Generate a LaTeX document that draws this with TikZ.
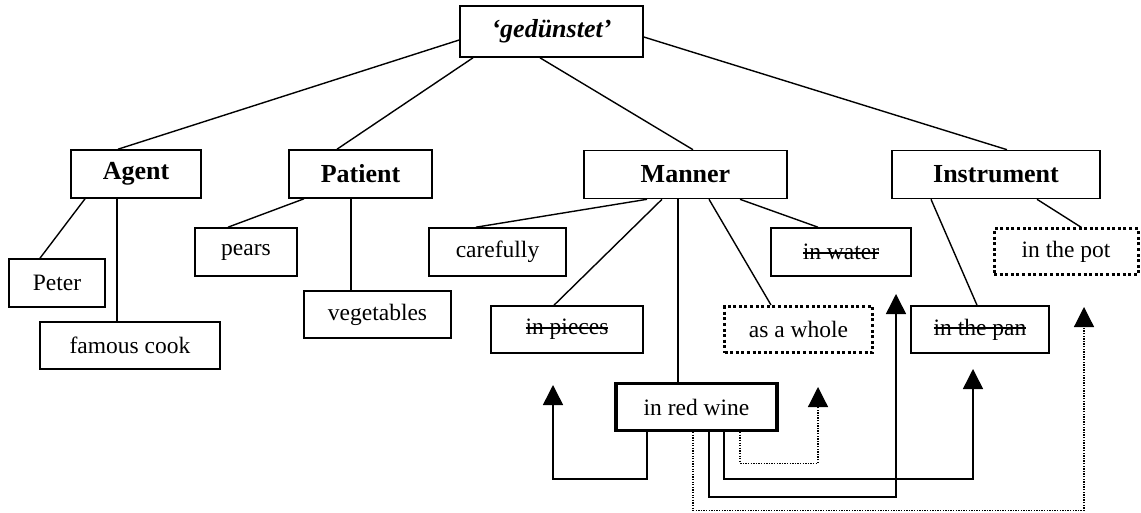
\documentclass[tikz,border=0pt]{standalone}
\usepackage{fontspec}
\setmainfont{Liberation Serif}
\newcommand{\strk}[1]{\setbox0\hbox{#1}\rlap{\rule[0.26em]{\wd0}{1.6pt}}\box0}
\usetikzlibrary{arrows.meta}
\tikzset{
  box/.style={draw, line width=1.6pt, inner sep=0pt, minimum height=48pt, font=\fontsize{23.5}{28}\selectfont},
  head/.style={box, font=\fontsize{26}{30}\selectfont\bfseries},
  dotbox/.style={box, line width=3pt, dash pattern=on 3pt off 2.6pt},
  thickbox/.style={box, line width=3.2pt},
  edge/.style={line width=1.4pt},
  arr/.style={line width=1.5pt, -{Triangle[length=20pt,width=20pt]}},
  darr/.style={line width=1.2pt, dash pattern=on 1.3pt off 1.3pt, -{Triangle[length=20pt,width=20pt]}}
}
\begin{document}
\begin{tikzpicture}[x=1pt,y=-1pt]
\useasboundingbox (0,0) rectangle (1141,513);
% nodes
\node[head, minimum width=183pt, minimum height=51pt] (ged) at (551.5,31.5) {\itshape ‘gedünstet’};
\node[head, minimum width=130pt] (agent) at (136,174) {Agent};
\node[head, minimum width=143pt] (patient) at (360.5,174) {Patient};
\node[head, minimum width=203pt] (manner) at (685.5,174.5) {Manner};
\node[head, minimum width=208pt] (instr) at (996,174.5) {Instrument};
\node[box, minimum width=96pt] (peter) at (57,283) {Peter};
\node[box, minimum width=180pt, minimum height=47pt] (cook) at (130,345.5) {famous cook};
\node[box, minimum width=102pt] (pears) at (246,252) {pears};
\node[box, minimum width=147pt, minimum height=47pt] (veg) at (377.5,314.5) {vegetables};
\node[box, minimum width=137pt] (careful) at (497.5,252) {carefully};
\node[box, minimum width=152pt, minimum height=47pt] (pieces) at (567,329.5) {\strk{in pieces}};
\node[dotbox, minimum width=148pt, minimum height=46pt] (whole) at (798.5,329.5) {as a whole};
\node[box, minimum width=140pt] (water) at (841,252) {\strk{in water}};
\node[dotbox, minimum width=144pt, minimum height=46pt] (pot) at (1066,252) {in the pot};
\node[box, minimum width=138pt, minimum height=47pt] (pan) at (980,329.5) {\strk{in the pan}};
\node[thickbox, minimum width=161pt, minimum height=47pt] (wine) at (696.5,407) {in red wine};
% tree edges
\draw[edge] ([yshift=-8.5pt]ged.west) -- ([xshift=-18pt]agent.north);
\draw[edge] ([xshift=-78.5pt]ged.south) -- ([xshift=-23.5pt]patient.north);
\draw[edge] ([xshift=-11.5pt]ged.south) -- ([xshift=7.5pt]manner.north);
\draw[edge] ([yshift=-5.5pt]ged.east) -- ([xshift=11pt]instr.north);
\draw[edge] ([xshift=-51pt]agent.south) -- ([xshift=-17pt]peter.north);
\draw[edge] ([xshift=-19pt]agent.south) -- ([xshift=-13pt]cook.north);
\draw[edge] ([xshift=-56.5pt]patient.south) -- ([xshift=-18pt]pears.north);
\draw[edge] ([xshift=-9.5pt]patient.south) -- ([xshift=-26.5pt]veg.north);
\draw[edge] ([xshift=-38.5pt]manner.south) -- ([xshift=-21.5pt]careful.north);
\draw[edge] ([xshift=-23.5pt]manner.south) -- ([xshift=-13pt]pieces.north);
\draw[edge] ([xshift=-7.5pt]manner.south) -- ([xshift=-18.5pt]wine.north);
\draw[edge] ([xshift=23.5pt]manner.south) -- ([xshift=-27.5pt]whole.north);
\draw[edge] ([xshift=54.5pt]manner.south) -- ([xshift=-23pt]water.north);
\draw[edge] ([xshift=-65pt]instr.south) -- ([xshift=-3pt]pan.north);
\draw[edge] ([xshift=41pt]instr.south) -- ([xshift=15.5pt]pot.north);
% arrow targets
\coordinate (t1) at (553,385);
\coordinate (t2) at (818,387);
\coordinate (t3) at (973,369);
\coordinate (t4) at (896,294);
\coordinate (t5) at (1084,307);
% arrows
\draw[arr] ([xshift=-49.5pt]wine.south) -- ++(0,47) -| (t1);
\draw[darr] ([xshift=43.5pt]wine.south) -- ++(0,31) -| (t2);
\draw[arr] ([xshift=27.5pt]wine.south) -- ++(0,47) -| (t3);
\draw[arr] ([xshift=12.5pt]wine.south) -- ++(0,65) -| (t4);
\draw[darr] ([xshift=-3.5pt]wine.south) -- ++(0,78) -| (t5);
\end{tikzpicture}
\end{document}
